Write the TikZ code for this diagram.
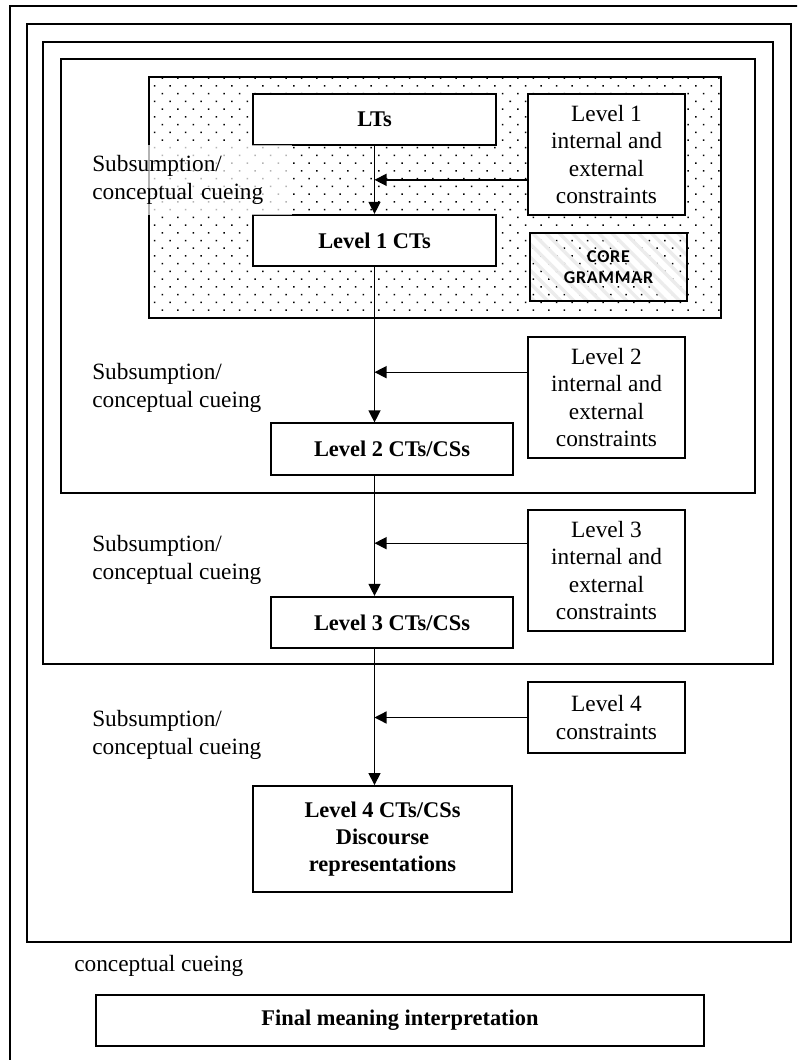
\documentclass[tikz,border=0pt]{standalone}
\usepackage{fontspec}
\setmainfont{Liberation Serif}
\newfontfamily\coresans[LetterSpace=4]{Carlito}
\usetikzlibrary{arrows.meta,patterns.meta}

\begin{document}
\begin{tikzpicture}[x=0.75pt,y=-0.75pt,
  frame/.style={line width=1.4pt},
  box/.style={draw, line width=1.4pt, fill=white, align=center, inner sep=0pt,
              font=\fontsize{16.8}{20.5}\selectfont\bfseries},
  lvlbox/.style={box, minimum width=182pt, minimum height=38.5pt},
  conbox/.style={box, font=\fontsize{17.5}{20.5}\selectfont,
                 minimum width=118pt, minimum height=91pt},
  cue/.style={anchor=west, align=left, inner sep=0pt,
              font=\fontsize{17.5}{21.5}\selectfont},
  arr/.style={-{Triangle[length=9pt,width=9pt]}, line width=1pt}
]
  \clip (0,0) rectangle (797,1060);
  \fill[white] (0,0) rectangle (797,1060);

  % Nested frames
  \draw[frame] (10,6) rectangle (830,1100);
  \draw[frame] (27,24) rectangle (791,942);
  \draw[frame] (43,42) rectangle (773,664);
  \draw[frame] (61,59) rectangle (755,493);
  \draw[frame, pattern={Dots[distance=8.2pt, angle=45, radius=0.8pt]}]
    (149,77) rectangle (721,318);

  % Level 1
  \node[lvlbox] (lts) at (374.5,119.5) {LTs};
  \node[lvlbox] (l1cts) at (374.5,240.5) {Level 1 CTs};
  \node[conbox] (l1con) at (606.5,154.5) {Level 1\\internal and\\external\\constraints};
  \node[draw, line width=1.4pt, minimum width=118pt, minimum height=51pt,
        pattern={Lines[angle=-45, distance=7pt, line width=2.5pt]}, pattern color=gray!15,
        align=center, font=\coresans\fontsize{13.5}{16}\selectfont\bfseries]
    (core) at (608.5,267) {CORE\\GRAMMAR};
  \node[cue, fill=white, fill opacity=0.7, text opacity=1, text width=150pt,
        minimum height=52pt] (cue1) at (92,180) {Subsumption/\\conceptual cueing};

  % Level 2
  \node[lvlbox] (l2cts) at (392,449) {Level 2 CTs/CSs};
  \node[conbox] (l2con) at (606.5,397.5) {Level 2\\internal and\\external\\constraints};
  \node[cue] (cue2) at (92,388) {Subsumption/\\conceptual cueing};

  % Level 3
  \node[lvlbox] (l3cts) at (392,622.5) {Level 3 CTs/CSs};
  \node[conbox] (l3con) at (606.5,570.5) {Level 3\\internal and\\external\\constraints};
  \node[cue] (cue3) at (92,560) {Subsumption/\\conceptual cueing};

  % Level 4
  \node[lvlbox, minimum width=194pt, minimum height=79.5pt] (l4cts) at (382.5,839)
    {Level 4 CTs/CSs\\Discourse\\representations};
  \node[conbox, minimum height=53pt] (l4con) at (606.5,717.5) {Level 4\\constraints};
  \node[cue] (cue4) at (92,735) {Subsumption/\\conceptual cueing};

  % Final
  \node[cue] (cue5) at (74,966) {conceptual cueing};
  \node[lvlbox, minimum width=456pt] (final) at (400,1020.5) {Final meaning interpretation};

  % Arrows
  \draw[arr] (lts) -- (l1cts);
  \draw[arr] (l1cts.south) -- (l1cts.south |- l2cts.north);
  \draw[arr] (l1cts.south |- l2cts.south) -- (l1cts.south |- l3cts.north);
  \draw[arr] (l1cts.south |- l3cts.south) -- (l1cts.south |- l4cts.north);
  \draw[arr] ([yshift=-19pt]l1con.west) -- ([yshift=-19pt]l1con.west -| lts.south);
  \draw[arr] ([yshift=19pt]l2con.west) -- ([yshift=19pt]l2con.west -| lts.south);
  \draw[arr] ([yshift=20.5pt]l3con.west) -- ([yshift=20.5pt]l3con.west -| lts.south);
  \draw[arr] (l4con.west) -- (l4con.west -| lts.south);
\end{tikzpicture}
\end{document}
